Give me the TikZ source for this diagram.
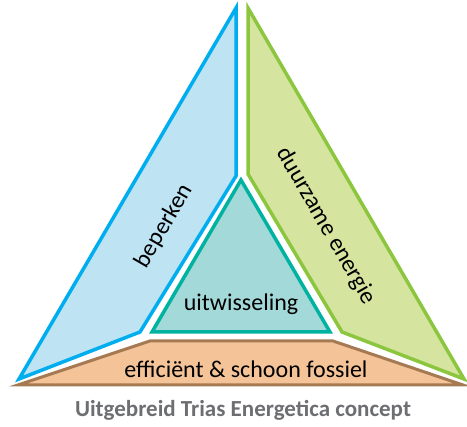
\documentclass[tikz,border=0pt]{standalone}
\usepackage{fontspec}
\setmainfont{Carlito}
\definecolor{bstroke}{HTML}{00AEEF}
\definecolor{bfill}{HTML}{BEE3F3}
\definecolor{gstroke}{HTML}{8CC63F}
\definecolor{gfill}{HTML}{D5E5A0}
\definecolor{tstroke}{HTML}{00B2A0}
\definecolor{tfill}{HTML}{A3D9D8}
\definecolor{brstroke}{HTML}{A57A53}
\definecolor{brfill}{HTML}{F4C397}
\definecolor{capgray}{HTML}{6D6E71}
\tikzset{
  part/.style={line width=3.5pt, line join=miter},
  lbl/.style={font=\fontsize{24}{26}\selectfont, text=black, inner sep=0pt},
}
\begin{document}
\begin{tikzpicture}[x=1pt,y=-1pt]
\useasboundingbox (0,0) rectangle (467,427);
% bottom trapezoid
\draw[part, draw=brstroke, fill=brfill, line width=3pt] (18,385) -- (150,341) -- (333,341) -- (463,385) -- cycle;
% left blue
\draw[part, draw=bstroke, fill=bfill] (236,8) -- (236,176) -- (140,332) -- (19,379) -- cycle;
% right green
\draw[part, draw=gstroke, fill=gfill] (248,8) -- (248,174) -- (342,332) -- (464,379) -- cycle;
% center triangle
\draw[part, draw=tstroke, fill=tfill] (241,180) -- (330,332) -- (152,332) -- cycle;
\node[lbl, rotate=60] (bep) at (164,226) {beperken};
\node[lbl, rotate=-60] (duur) at (326,226) {duurzame energie};
\node[lbl] (uit) at (241,304) {uitwisseling};
\node[lbl] (eff) at (246,369) {efficiënt \& schoon fossiel};
\node[font=\fontsize{23}{25}\selectfont\bfseries, text=capgray, inner sep=0pt] (cap) at (243,410) {Uitgebreid Trias Energetica concept};
\end{tikzpicture}
\end{document}
